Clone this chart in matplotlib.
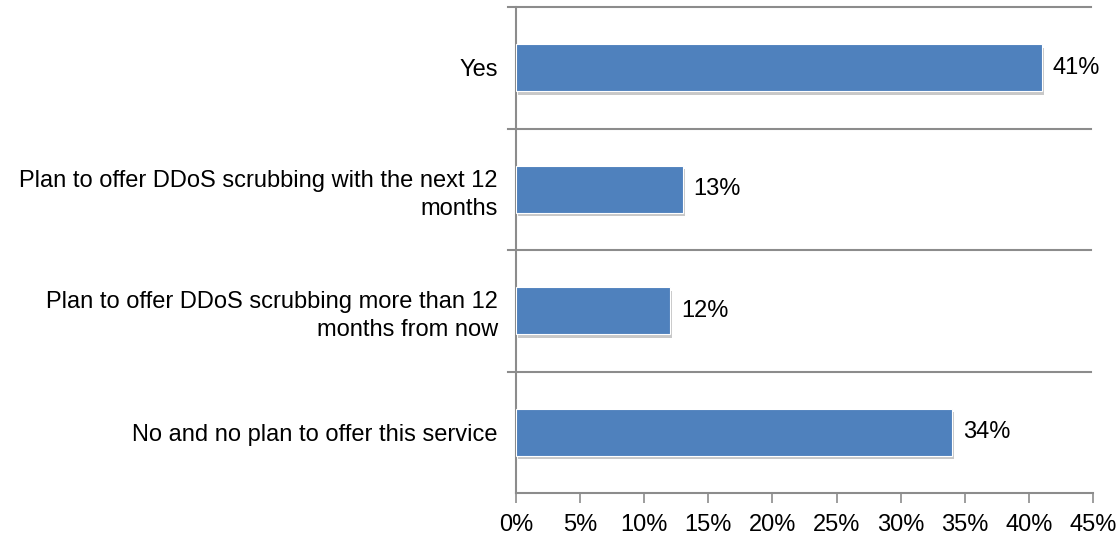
import matplotlib.pyplot as plt
import matplotlib.patheffects as pe
import numpy as np

plt.rcParams['font.family'] = ['Liberation Sans', 'DejaVu Sans']

categories = ['Yes',
              'Plan to offer DDoS scrubbing with the next 12\nmonths',
              'Plan to offer DDoS scrubbing more than 12\nmonths from now',
              'No and no plan to offer this service']
values = [41, 13, 12, 34]
xticks = [0, 5, 10, 15, 20, 25, 30, 35, 40, 45]

bar_color = '#4F81BD'
line_color = '#8C8C8C'
fs = 17

fig = plt.figure(figsize=(11.2, 5.35), dpi=100)
ax = fig.add_axes([516 / 1120, 1 - 493 / 535, (1093 - 516) / 1120, (493 - 7) / 535])

y = np.arange(len(categories))[::-1]
bars = ax.barh(y, values, height=0.39, color=bar_color, edgecolor='white', linewidth=0.8,
               zorder=3)
for b in bars:
    b.set_path_effects([pe.SimplePatchShadow(offset=(1.5, -2.5), shadow_rgbFace='#777777', alpha=0.4),
                        pe.Normal()])

for yi, v in zip(y, values):
    ax.text(v + 0.85, yi, f'{v}%', va='center', ha='left', fontsize=fs, color='black')

ax.set_xlim(0, 45)
ax.set_ylim(-0.5, len(categories) - 0.5)
ax.set_xticks(xticks)
ax.set_xticklabels([f'{t}%' for t in xticks], fontsize=fs)

# category separators
ax.set_yticks(y)
ax.set_yticklabels(categories, fontsize=fs, linespacing=1.35)
ax.tick_params(axis='y', length=0, pad=13)
for b in np.arange(-0.5, len(categories) - 0.4, 1.0)[1:]:
    ax.plot([-0.014, 0.997], [b, b], transform=ax.get_yaxis_transform(), color=line_color,
            linewidth=1.5, clip_on=False, zorder=1)
ax.tick_params(axis='x', length=7, width=1.2, color=line_color, pad=8, direction='out')

for s in ['top', 'right']:
    ax.spines[s].set_visible(False)
for s in ['left', 'bottom']:
    ax.spines[s].set_color(line_color)
    ax.spines[s].set_linewidth(1.5)
ax.spines['bottom'].set_bounds(0, 45)

for t in ax.get_yticklabels():
    t.set_multialignment('right')

fig.savefig('out.png', dpi=100)
